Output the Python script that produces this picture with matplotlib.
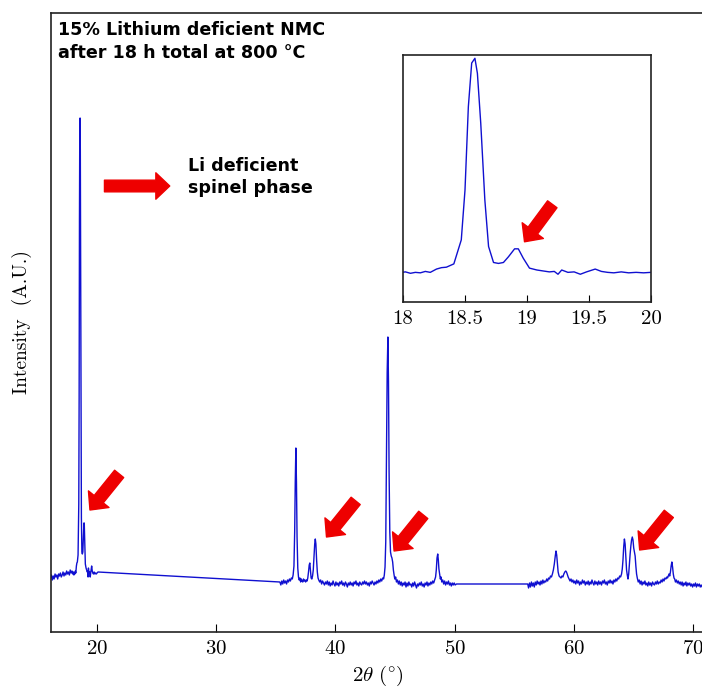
import matplotlib
matplotlib.use("Agg")
import matplotlib.pyplot as plt
import numpy as np

# XRD pattern (2theta in degrees, intensity in arbitrary units)
# segment 1: around the (003) peak
tt_seg1 = [16.10, 16.18, 16.25, 16.33, 16.40, 16.48, 16.55, 16.63, 16.70, 16.78,
           16.85, 16.93, 17.00, 17.08, 17.15, 17.23, 17.30, 17.38, 17.45, 17.53,
           17.60, 17.68, 17.75, 17.83, 17.90, 17.96, 18.02, 18.06, 18.10, 18.14,
           18.18, 18.22, 18.27, 18.31, 18.35, 18.41, 18.47, 18.50, 18.527, 18.554,
           18.58, 18.60, 18.627, 18.66, 18.69, 18.73, 18.77, 18.81, 18.85, 18.90,
           18.93, 18.97, 19.02, 19.08, 19.13, 19.18, 19.22, 19.25, 19.28, 19.33,
           19.38, 19.43, 19.48, 19.55, 19.60, 19.65, 19.70, 19.76, 19.82, 19.88,
           19.94, 20.00, 20.08]
int_seg1 = [54, 57, 52, 56, 53, 58, 55, 57, 53, 58,
            56, 59, 55, 57, 60, 56, 59, 57, 61, 58,
            60, 57, 62, 59, 61, 58, 60, 57, 59, 58,
            61, 59, 66, 69, 70, 77, 128, 234, 411, 504,
            514, 482, 376, 213, 114, 80, 78, 80, 92, 109,
            109, 89, 68, 64, 62, 60, 61, 55, 64, 59,
            60, 55, 60, 66, 61, 59, 58, 60, 58, 59,
            58, 59, 60]

# segment 2: 35 - 50 deg
tt_seg2 = [35.34, 35.42, 35.50, 35.58, 35.66, 35.74, 35.82, 35.90, 35.98, 36.06,
           36.14, 36.22, 36.30, 36.38, 36.45, 36.52, 36.58, 36.63, 36.68, 36.73,
           36.78, 36.84, 36.90, 36.96, 37.02, 37.08, 37.14, 37.20, 37.26, 37.32,
           37.38, 37.44, 37.50, 37.56, 37.62, 37.68, 37.74, 37.80, 37.85, 37.90,
           37.96, 38.02, 38.08, 38.14, 38.20, 38.26, 38.31, 38.36, 38.42, 38.48,
           38.54, 38.60, 38.68, 38.76, 38.84, 38.92, 39.00, 39.08, 39.16, 39.24,
           39.32, 39.40, 39.48, 39.56, 39.64, 39.72, 39.80, 39.88, 39.96, 40.04,
           40.12, 40.20, 40.28, 40.36, 40.44, 40.52, 40.60, 40.68, 40.76, 40.84,
           40.92, 41.00, 41.08, 41.16, 41.24, 41.32, 41.40, 41.48, 41.56, 41.64,
           41.72, 41.80, 41.88, 41.96, 42.04, 42.12, 42.20, 42.28, 42.36, 42.44,
           42.52, 42.60, 42.68, 42.76, 42.84, 42.92, 43.00, 43.08, 43.16, 43.24,
           43.32, 43.40, 43.48, 43.56, 43.64, 43.72, 43.80, 43.88, 43.96, 44.04,
           44.10, 44.16, 44.22, 44.28, 44.34, 44.40, 44.45, 44.50, 44.56, 44.62,
           44.68, 44.74, 44.80, 44.86, 44.92, 44.98, 45.05, 45.12, 45.20, 45.28,
           45.36, 45.44, 45.52, 45.60, 45.68, 45.76, 45.84, 45.92, 46.00, 46.08,
           46.16, 46.24, 46.32, 46.40, 46.48, 46.56, 46.64, 46.72, 46.80, 46.88,
           46.96, 47.04, 47.12, 47.20, 47.28, 47.36, 47.44, 47.52, 47.60, 47.68,
           47.76, 47.84, 47.92, 48.00, 48.08, 48.16, 48.24, 48.32, 48.40, 48.46,
           48.52, 48.58, 48.63, 48.68, 48.74, 48.80, 48.86, 48.92, 49.00, 49.08,
           49.16, 49.24, 49.32, 49.40, 49.48, 49.56, 49.64, 49.72, 49.80, 49.88,
           49.96, 50.04, 50.15]
int_seg2 = [50, 47, 51, 48, 52, 49, 51, 48, 52, 50,
            53, 51, 54, 53, 57, 66, 100, 150, 184, 150,
            95, 64, 55, 52, 54, 50, 53, 51, 50, 53,
            51, 52, 50, 52, 51, 54, 60, 67, 69, 62,
            54, 53, 56, 62, 75, 88, 93, 88, 72, 60,
            54, 52, 50, 52, 48, 51, 49, 47, 50, 48,
            51, 47, 50, 46, 49, 47, 51, 48, 46, 50,
            47, 49, 46, 50, 48, 51, 47, 49, 46, 50,
            48, 45, 49, 47, 50, 47, 49, 46, 50, 48,
            51, 47, 49, 46, 50, 48, 47, 50, 48, 51,
            48, 50, 47, 49, 46, 50, 48, 51, 49, 47,
            50, 48, 51, 49, 52, 50, 53, 51, 54, 53,
            57, 65, 90, 170, 260, 295, 250, 160, 100, 80,
            76, 74, 70, 62, 57, 53, 55, 50, 52, 48,
            51, 47, 50, 46, 49, 47, 50, 45, 49, 46,
            50, 47, 48, 45, 49, 46, 50, 47, 44, 48,
            46, 49, 47, 50, 46, 48, 45, 49, 47, 50,
            46, 49, 47, 50, 48, 51, 49, 52, 55, 62,
            74, 78, 72, 63, 58, 53, 55, 50, 52, 48,
            51, 47, 50, 48, 51, 47, 49, 46, 49, 47,
            49, 47, 48]

# segment 3: 56 - 71 deg
tt_seg3 = [56.13, 56.20, 56.28, 56.36, 56.44, 56.52, 56.60, 56.68, 56.76, 56.84,
           56.92, 57.00, 57.08, 57.16, 57.24, 57.32, 57.40, 57.48, 57.56, 57.64,
           57.72, 57.80, 57.88, 57.96, 58.04, 58.12, 58.20, 58.28, 58.36, 58.44,
           58.50, 58.56, 58.62, 58.68, 58.76, 58.84, 58.92, 59.00, 59.08, 59.16,
           59.24, 59.32, 59.38, 59.44, 59.52, 59.60, 59.68, 59.76, 59.84, 59.92,
           60.00, 60.08, 60.16, 60.24, 60.32, 60.40, 60.48, 60.56, 60.64, 60.72,
           60.80, 60.88, 60.96, 61.04, 61.12, 61.20, 61.28, 61.36, 61.44, 61.52,
           61.60, 61.68, 61.76, 61.84, 61.92, 62.00, 62.08, 62.16, 62.24, 62.32,
           62.40, 62.48, 62.56, 62.64, 62.72, 62.80, 62.88, 62.96, 63.04, 63.12,
           63.20, 63.28, 63.36, 63.44, 63.52, 63.60, 63.68, 63.76, 63.84, 63.92,
           64.00, 64.06, 64.12, 64.18, 64.24, 64.30, 64.36, 64.42, 64.48, 64.54,
           64.60, 64.66, 64.72, 64.78, 64.84, 64.90, 64.96, 65.02, 65.08, 65.14,
           65.20, 65.26, 65.32, 65.40, 65.48, 65.56, 65.64, 65.72, 65.80, 65.88,
           65.96, 66.04, 66.12, 66.20, 66.28, 66.36, 66.44, 66.52, 66.60, 66.68,
           66.76, 66.84, 66.92, 67.00, 67.08, 67.16, 67.24, 67.32, 67.40, 67.48,
           67.56, 67.64, 67.72, 67.80, 67.86, 67.92, 67.98, 68.04, 68.10, 68.16,
           68.22, 68.28, 68.34, 68.40, 68.46, 68.52, 68.60, 68.68, 68.76, 68.84,
           68.92, 69.00, 69.08, 69.16, 69.24, 69.32, 69.40, 69.48, 69.56, 69.64,
           69.72, 69.80, 69.88, 69.96, 70.04, 70.12, 70.20, 70.28, 70.36, 70.44,
           70.52, 70.60, 70.68, 70.76, 70.84, 70.92, 71.00]
int_seg3 = [48, 44, 49, 45, 50, 46, 49, 45, 50, 47,
            51, 48, 50, 47, 51, 48, 52, 49, 51, 50,
            53, 51, 54, 53, 56, 55, 58, 62, 68, 76,
            81, 77, 68, 60, 56, 55, 54, 56, 55, 58,
            60, 61, 60, 58, 55, 53, 51, 53, 50, 52,
            49, 51, 48, 52, 49, 51, 47, 50, 48, 52,
            49, 51, 47, 50, 48, 51, 47, 50, 48, 52,
            49, 47, 51, 48, 50, 47, 51, 48, 50, 47,
            51, 49, 52, 48, 50, 47, 51, 49, 52, 49,
            51, 48, 52, 50, 53, 51, 54, 53, 56, 55,
            58, 63, 72, 85, 93, 88, 74, 62, 57, 53,
            58, 68, 78, 86, 92, 95, 92, 84, 80, 76,
            66, 58, 54, 50, 52, 48, 51, 47, 50, 48,
            51, 47, 49, 46, 50, 47, 49, 46, 50, 48,
            47, 50, 48, 51, 48, 50, 49, 52, 50, 53,
            51, 54, 53, 55, 54, 56, 58, 56, 60, 66,
            70, 65, 58, 54, 53, 50, 52, 49, 51, 48,
            50, 47, 50, 46, 49, 47, 50, 46, 49, 47,
            49, 46, 48, 45, 48, 46, 49, 45, 48, 46,
            48, 45, 47, 45, 48, 46, 47]

two_theta = np.array(tt_seg1 + tt_seg2 + tt_seg3)
intensity = np.array(int_seg1 + int_seg2 + int_seg3)

main_xticks = [20, 30, 40, 50, 60, 70]
inset_xticks = [18, 18.5, 19, 19.5, 20]

plt.rcParams["font.family"] = "cmr10"
plt.rcParams["mathtext.fontset"] = "cm"
plt.rcParams["axes.formatter.use_mathtext"] = True

fig = plt.figure(figsize=(7.02, 6.94), dpi=100)
ax = fig.add_axes([51 / 702, 62 / 694, 654 / 702, 619 / 694])

ax.plot(two_theta, intensity, color="#1010d0", linewidth=1.0)
ax.set_xlim(16.14, 71.0)
ax.set_ylim(0, 619)
ax.set_xticks(main_xticks)
ax.set_yticks([])
ax.tick_params(axis="x", direction="in", length=6, labelsize=15, pad=6)
for s in ax.spines.values():
    s.set_linewidth(1.2)
    s.set_color("#222222")
ax.set_xlabel(r"$2\theta\ (^{\circ})$", fontsize=15, labelpad=4)
ax.set_ylabel("Intensity  (A.U.)", fontsize=14, labelpad=14)

# annotations
bold = dict(family="DejaVu Sans", fontweight="bold", fontsize=12.6, color="black")
ax.text(0.011, 0.987, "15% Lithium deficient NMC\nafter 18 h total at 800 \u00b0C",
        transform=ax.transAxes, va="top", ha="left", linespacing=1.35, **bold)
ax.text(0.210, 0.767, "Li deficient\nspinel phase", transform=ax.transAxes,
        va="top", ha="left", linespacing=1.3, **bold)

arrow = dict(arrowstyle="simple,head_length=0.5,head_width=0.95,tail_width=0.42",
             color="#ee0000", shrinkA=0, shrinkB=0, mutation_scale=20)
ax.annotate("", xy=(26.1, 446), xytext=(-47, 0), textcoords="offset points",
            arrowprops=arrow)
for tip in [(19.41, 122), (39.25, 95), (44.92, 81), (65.52, 82)]:
    ax.annotate("", xy=tip, xytext=(21, 26), textcoords="offset points",
                arrowprops=arrow)

# inset zoom on 18-20 deg
axin = fig.add_axes([403 / 702, 392 / 694, 248 / 702, 247 / 694])
axin.plot(two_theta, intensity, color="#1010d0", linewidth=1.0)
axin.set_xlim(18, 20)
axin.set_ylim(-4, 521)
axin.set_xticks(inset_xticks)
axin.set_xticklabels(["18", "18.5", "19", "19.5", "20"])
axin.set_yticks([])
axin.tick_params(axis="x", direction="in", length=5, labelsize=15, pad=6)
for s in axin.spines.values():
    s.set_linewidth(1.2)
    s.set_color("#222222")
axin.annotate("", xy=(18.98, 124), xytext=(20, 27), textcoords="offset points",
              arrowprops=arrow)

fig.savefig("out.png", dpi=100)
